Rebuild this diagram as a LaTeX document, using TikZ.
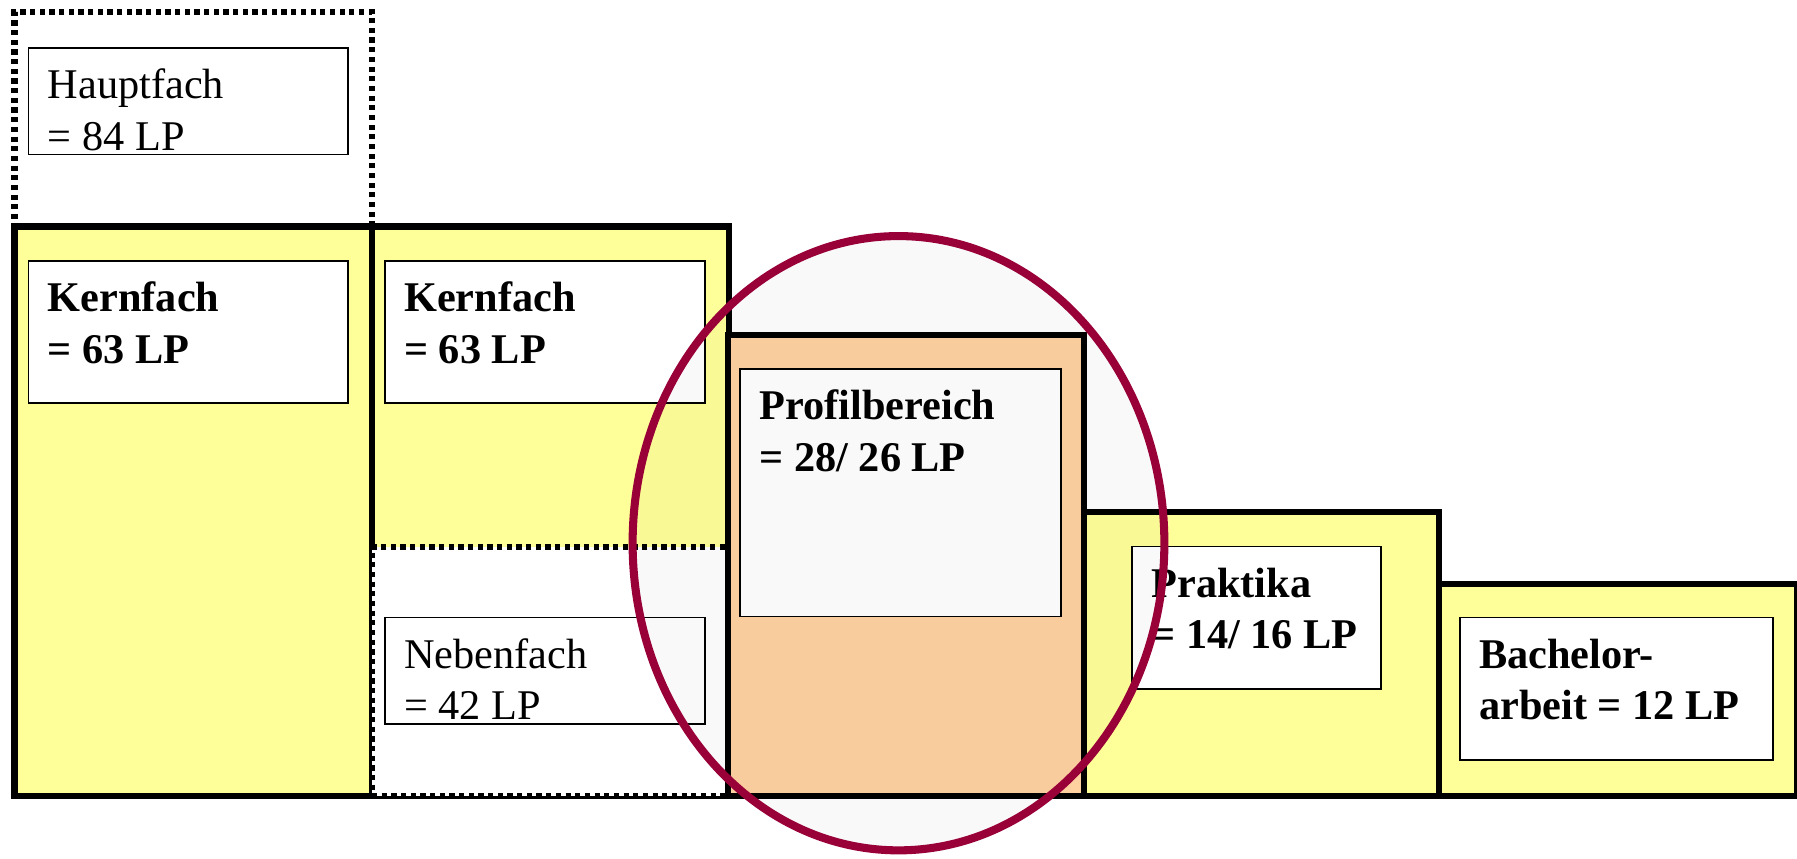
\documentclass[tikz,border=0pt]{standalone}
\usepackage{fontspec}
\setmainfont{Liberation Serif}
\usepackage{tikz}
\usetikzlibrary{positioning}
\definecolor{gelb}{RGB}{255,255,153}
\definecolor{profilorange}{RGB}{255,209,161}
\definecolor{weinrot}{RGB}{153,0,56}

\begin{document}
\begin{tikzpicture}[x=0.01cm,y=-0.01cm,
    block/.style={draw,line width=1.5pt,fill=gelb,anchor=north west,
        inner sep=0pt},
    dotbox/.style={draw,line width=1.5pt,dash pattern=on 1.3pt off 1.1pt,
        fill=white,anchor=north west,inner sep=0pt},
    feld/.style={draw,line width=0.45pt,fill=white,anchor=north west,
        inner sep=0pt},
    txt/.style={anchor=base west,align=left,inner sep=0pt,xshift=0.17cm,
        yshift=-0.9cm,font=\fontsize{10.5}{12.8}\selectfont}]
    \useasboundingbox (0,0) rectangle (1568,749);

    % Bloecke
    \node[dotbox,fill=none,minimum width=3.12cm,minimum height=1.87cm] (haupt) at (10,8) {};
    \node[block,minimum width=3.12cm,minimum height=4.97cm] (kern1) at (10,195) {};
    \node[block,minimum width=3.11cm,minimum height=4.97cm] (kern2) at (322,195) {};
    \node[dotbox,minimum width=3.11cm,minimum height=2.17cm] (neben) at (322,475) {};
    \node[block,fill=profilorange,minimum width=3.10cm,minimum height=4.02cm] (profil) at (633,290) {};
    \node[block,minimum width=3.10cm,minimum height=2.48cm] (prakt) at (943,444) {};
    \node[block,minimum width=3.12cm,minimum height=1.85cm] (bach) at (1253,507) {};

    % Beschriftungsfelder
    \node[feld,minimum width=2.79cm,minimum height=0.93cm] (hfeld) at (24,41) {};
    \node[feld,minimum width=2.79cm,minimum height=1.24cm] (k1feld) at (24,227) {};
    \node[feld,minimum width=2.79cm,minimum height=1.24cm] (k2feld) at (335,227) {};
    \node[feld,minimum width=2.79cm,minimum height=0.93cm] (nfeld) at (335,538) {};
    \node[feld,minimum width=2.80cm,minimum height=2.16cm] (pfeld) at (645,321) {};
    \node[feld,minimum width=2.17cm,minimum height=1.24cm] (prfeld) at (987,476) {};
    \node[feld,minimum width=2.73cm,minimum height=1.24cm] (bfeld) at (1273,538) {};

    \node[txt] (htext) at (hfeld.north west) {Hauptfach\\= 84 LP};
    \node[txt] (k1text) at (k1feld.north west) {\textbf{Kernfach}\\\textbf{= 63 LP}};
    \node[txt] (k2text) at (k2feld.north west) {\textbf{Kernfach}\\\textbf{= 63 LP}};
    \node[txt] (ntext) at (nfeld.north west) {Nebenfach\\= 42 LP};
    \node[txt] (ptext) at (pfeld.north west) {\textbf{Profilbereich}\\\textbf{= 28/ 26 LP}};
    \node[txt] (prtext) at (prfeld.north west) {\textbf{Praktika}\\\textbf{= 14/ 16 LP}};
    \node[txt] (btext) at (bfeld.north west) {\textbf{Bachelor-}\\\textbf{arbeit = 12 LP}};

    \draw[weinrot,line width=2pt,fill=black,fill opacity=0.025] (784,474)
        ellipse [x radius=232,y radius=268];
\end{tikzpicture}
\end{document}
